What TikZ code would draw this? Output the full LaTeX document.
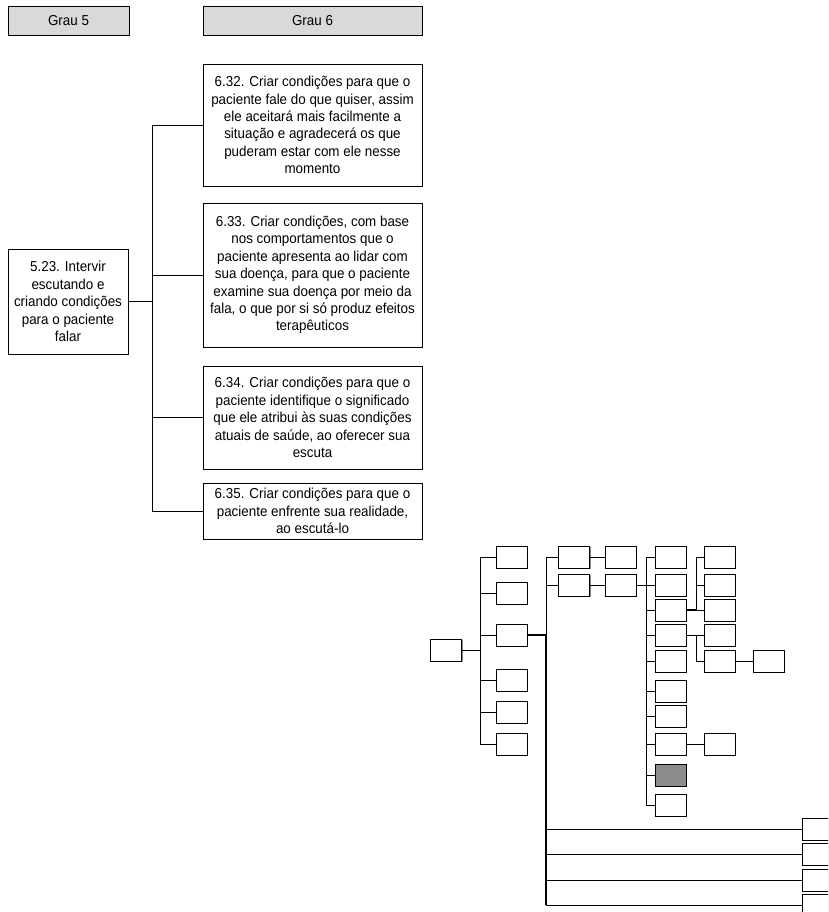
\documentclass[tikz,border=0pt]{standalone}
\usepackage{fontspec}
\setmainfont{Liberation Sans}[FakeStretch=0.93]
\usetikzlibrary{shadows}
\begin{document}
\begin{tikzpicture}[x=1pt,y=-1pt,
  every node/.style={font=\fontsize{14.4}{17.4}\selectfont},
  edgeshade/.style={drop shadow={shadow xshift=1.2pt,shadow yshift=-1.2pt,opacity=1,fill=black!45}},
  header/.style={draw=black,line width=0.9pt,fill=black!15,inner sep=0pt,
    minimum height=29,edgeshade},
  txtbox/.style={draw=black,line width=0.9pt,fill=white,inner sep=0pt,
    align=center,minimum width=219,edgeshade},
  sbox/.style={draw=black,line width=0.9pt,fill=white,inner sep=0pt,
    minimum width=31,minimum height=22,edgeshade},
  wbox/.style={sbox,minimum width=60},
  hot/.style={sbox,fill=black!45},
  link/.style={draw=black,line width=0.9pt},
  thick link/.style={draw=black,line width=1.8pt}]
\clip (0,0) rectangle (828,912);
\fill[white] (0,0) rectangle (828,912);

% column headers
\node[header,minimum width=121] (g5) at (68.5,20.5) {Grau 5};
\node[header,minimum width=219] (g6) at (312.5,20.5) {Grau 6};

% level 5 item and its level 6 children
\node[txtbox,minimum width=120,minimum height=105] (b523) at (68,301.5)
  {5.23. Intervir\\escutando e\\criando condições\\para o paciente\\falar};
\node[txtbox,minimum height=122] (b632) at (312.5,125)
  {6.32. Criar condições para que o\\paciente fale do que quiser, assim\\ele aceitará mais facilmente a\\situação e agradecerá os que\\puderam estar com ele nesse\\momento};
\node[txtbox,minimum height=144] (b633) at (312.5,275)
  {6.33. Criar condições, com base\\nos comportamentos que o\\paciente apresenta ao lidar com\\sua doença, para que o paciente\\examine sua doença por meio da\\fala, o que por si só produz efeitos\\terapêuticos};
\node[txtbox,minimum height=103] (b634) at (312.5,417.5)
  {6.34. Criar condições para que o\\paciente identifique o significado\\que ele atribui às suas condições\\atuais de saúde, ao oferecer sua\\escuta};
\node[txtbox,minimum height=56] (b635) at (312.5,511)
  {6.35. Criar condições para que o\\paciente enfrente sua realidade,\\ao escutá-lo};

\coordinate (j0) at (152.7,301.5);
\draw[thick link] (b523.east) -- (j0);
\foreach \n in {b632,b633,b634,b635} \draw[link] (\n.west) -| (j0);

% overview map
\node[sbox] (r) at (446,650) {};
\foreach \y [count=\i] in {557,593,635,680,712,744}
  \node[sbox] (L\i) at (511.5,\y) {};
\node[sbox] (A1) at (574,557) {};
\node[sbox] (A2) at (574,585) {};
\node[sbox] (B1) at (620.5,557) {};
\node[sbox] (B2) at (620.5,585) {};
\foreach \y [count=\i] in {557,585,610,635,661,691,716,744}
  \node[sbox] (C\i) at (670.5,\y) {};
\node[hot] (C9) at (670.5,775) {};
\node[sbox] (C10) at (670.5,805) {};
\foreach \y [count=\i] in {557,585,610,635,661}
  \node[sbox] (D\i) at (719.5,\y) {};
\node[sbox] (E1) at (768.5,661) {};
\node[sbox] (E2) at (719.5,744) {};
\foreach \y [count=\i] in {829,854,880,905}
  \node[wbox,anchor=west] (F\i) at (802,\y) {};

\coordinate (j1) at (480,650);
\draw[link] (r.east) -- (j1);
\foreach \i in {1,...,6} \draw[link] (L\i.west) -| (j1);

\coordinate (j2) at (546,635);
\draw[thick link] (L3.east) -- (j2);
\foreach \n in {A1,A2} \draw[link] (\n.west) -| (j2);
\foreach \i in {1,...,4} \draw[link] (F\i.west) -| (j2);
\draw[thick link] (j2) -- (j2 |- F4.west);
\draw[link] (A1) -- (B1);
\draw[link] (A2) -- (B2);

\coordinate (j3) at (646,585);
\draw[link] (B2.east) -- (j3);
\foreach \i in {1,...,10} \draw[link] (C\i.west) -| (j3);

\coordinate (j4) at (696,610);
\draw[thick link] (C3.east) -- (j4);
\foreach \i in {1,2,3} \draw[link] (D\i.west) -| (j4);
\coordinate (j5) at (696,635);
\draw[link] (C4.east) -- (j5);
\foreach \i in {4,5} \draw[link] (D\i.west) -| (j5);

\draw[link] (D5) -- (E1);
\draw[link] (C8) -- (E2);
\end{tikzpicture}
\end{document}
